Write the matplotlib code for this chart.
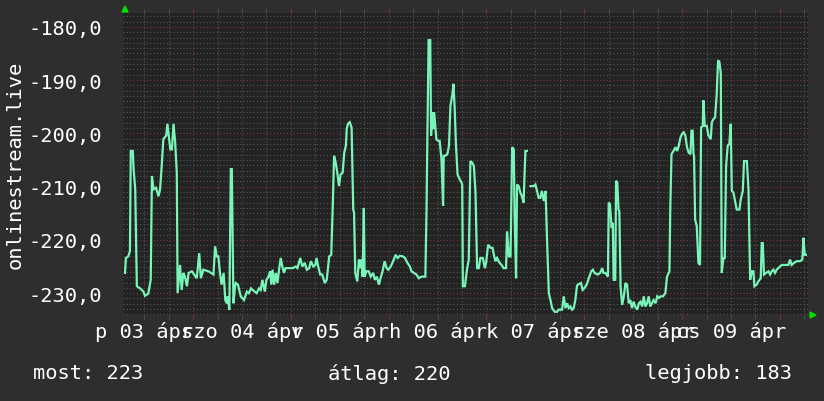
import numpy as np
import matplotlib
matplotlib.use("Agg")
import matplotlib.pyplot as plt
from matplotlib.ticker import FuncFormatter, MultipleLocator
import matplotlib.transforms as mtransforms

# hours since 03 apr 00:00, rank (plotted negative)
hours = [7.3, 7.5, 8.1, 8.5, 8.7, 9.2, 9.4, 9.8, 10.2, 11.0, 11.8, 12.2, 13.0, 13.6, 13.9, 14.3, 14.9, 15.5,
         15.9, 16.3, 16.7, 17.4, 17.7, 18.4, 18.8, 19.2, 19.6, 20.0, 20.2, 20.8, 21.2, 21.6, 22.0, 22.5, 22.9,
         23.7, 24.9, 25.5, 25.9, 26.5, 27.8, 29.0, 29.4, 29.8, 30.2, 30.6, 31.0, 31.5, 31.9, 32.3, 32.5, 32.9,
         33.25, 33.5, 33.9, 34.3, 34.5, 35.0, 35.7, 36.5, 37.2, 37.7, 38.2, 38.6, 39.1, 39.6, 40.2, 40.6, 41.0,
         41.6, 42.0, 42.5, 42.9, 43.2, 43.5, 43.9, 44.3, 44.7, 45.1, 45.5, 45.9, 46.3, 46.7, 47.6, 48.4, 49.2,
         49.6, 50.3, 50.8, 51.4, 51.9, 52.5, 52.9, 53.5, 54.0, 54.3, 54.7, 55.2, 55.7, 56.3, 56.8, 57.4, 57.9,
         58.3, 58.6, 59.0, 59.4, 59.8, 60.2, 60.7, 61.1, 61.5, 61.7, 62.0, 62.45, 62.9, 63.3, 63.5, 63.8, 64.3,
         64.7, 65.0, 65.3, 65.6, 65.9, 66.1, 66.5, 67.1, 67.6, 68.2, 68.6, 69.1, 69.6, 70.1, 70.5, 71.0, 71.5,
         71.9, 72.5, 73.1, 73.7, 74.2, 74.7, 75.5, 76.0, 76.6, 77.2, 77.6, 78.2, 78.8, 79.4, 80.0, 81.0, 81.3,
         81.5, 81.8, 82.2, 82.4, 82.7, 82.9, 83.15, 83.5, 83.7, 84.1, 84.5, 84.95, 85.35, 85.5, 85.9, 86.4,
         86.8, 87.15, 87.6, 87.9, 88.2, 88.5, 88.9, 89.4, 89.85, 90.05, 90.2, 90.7, 91.2, 91.65, 92.05, 92.5,
         92.9, 93.3, 93.7, 94.1, 94.5, 95.1, 95.6, 95.9, 96.4, 97.0, 97.5, 97.9, 98.2, 98.6, 99.2, 99.7, 100.2,
         100.8, 101.05, 101.5, 101.9, 102.3, 102.7, 102.9, 103.26, 103.5, 103.9, 104.3, 104.7, 105.1, 105.55,
         105.9, 106.3, 106.8, 107.6, 108.0, 108.4, 108.8, 109.2, 109.6, 110.05, 110.5, 110.9, 111.3, 111.7,
         112.1, 112.75, 113.3, 113.7, 114.55, 114.96, 115.4, 115.8, 116.2, 116.6, 117.0, 117.4, 117.8, 118.2,
         118.4, 119.2, 119.6, 120.0, 120.6, 121.1, 121.7, 122.1, 122.5, 123.3, 123.9, 124.4, 124.7, 125.2,
         125.8, 126.0, 126.3, 126.7, 127.0, 127.2, 127.6, 127.8, 128.1, 128.4, 128.6, 128.9, 129.3, 129.7,
         130.1, 130.5, 130.9, 131.3, 131.7, 132.1, 132.5, 133.0, 133.4, 133.8, 134.2, 134.6, 135.0, 135.4,
         135.8, 136.2, 136.6, 137.0, 137.5, 137.9, 138.3, 138.7, 139.3, 139.9, 140.3, 140.9, 141.1, 141.4,
         141.9, 142.4, 142.8, 143.2, 143.6, 144.0, 144.4, 144.8, 145.2, 145.6, 146.05, 146.3, 146.6, 146.8,
         146.94, 147.2, 147.6, 148.0, 148.4, 148.66, 149.07, 149.23, 149.56, 150.05, 150.46, 151.03, 151.3,
         151.7, 152.1, 152.5, 152.83, 153.16, 153.5, 153.73, 154.14, 154.47, 154.8, 155.2, 155.6, 155.94,
         156.2, 156.6, 157.0, 157.4, 158.07, 158.4, 158.9, 159.2, 159.9, 160.3, 160.7, 161.1, 161.5, 161.75,
         162.3, 162.7, 163.3, 163.55, 163.8, 164.1, 164.6, 165.2, 165.6, 166.0, 166.4, 166.8, 167.2, 167.6,
         168.0, 168.5, 169.3, 170.1, 170.5, 170.9, 171.5, 172.1, 172.95, 173.5, 173.8, 174.1, 174.4]
rank = [226.2, 223.4, 223.1, 222.1, 203.3, 203.3, 206.7, 210.5, 228.7, 229.1, 229.7, 230.5, 230.1, 227.5, 208.0,
        210.5, 210.2, 211.8, 210.5, 206.1, 201.1, 200.4, 198.2, 203.0, 203.0, 198.2, 201.7, 207.4, 230.0, 224.7,
        229.4, 226.2, 226.9, 228.7, 226.2, 225.9, 227.2, 222.5, 227.2, 225.6, 225.9, 226.5, 221.2, 223.1, 223.1,
        226.2, 228.4, 226.2, 231.3, 231.9, 230.6, 233.1, 206.7, 206.7, 231.9, 228.7, 228.1, 228.4, 230.6, 231.3,
        229.7, 230.0, 229.1, 229.4, 229.7, 230.0, 229.1, 229.4, 227.5, 229.7, 227.5, 226.9, 225.9, 228.4, 225.6,
        228.4, 226.2, 228.1, 225.6, 223.4, 225.0, 226.2, 225.3, 225.3, 225.3, 225.0, 225.3, 223.4, 225.0, 224.3,
        225.6, 225.3, 224.0, 225.0, 224.7, 223.4, 225.0, 226.5, 226.5, 228.1, 227.5, 223.1, 222.8, 213.0, 204.2,
        205.5, 207.4, 209.9, 207.7, 207.4, 203.6, 202.3, 199.2, 198.2, 197.9, 198.9, 214.3, 214.9, 226.2, 227.8,
        223.7, 225.3, 223.7, 226.9, 214.0, 226.9, 225.9, 225.9, 226.9, 226.2, 227.5, 226.9, 228.4, 226.9, 225.9,
        224.0, 225.3, 225.6, 225.0, 224.0, 222.8, 223.4, 223.0, 223.1, 223.4, 224.3, 225.0, 225.9, 226.2, 226.5,
        227.2, 226.9, 226.9, 213.6, 200.4, 182.5, 182.5, 200.4, 196.0, 199.2, 196.0, 199.2, 201.1, 201.4, 201.4,
        204.8, 213.6, 204.2, 204.2, 203.9, 202.3, 194.8, 192.9, 190.7, 195.4, 202.0, 207.7, 208.6, 209.2, 209.6,
        228.7, 228.7, 225.6, 223.7, 205.2, 205.5, 206.1, 211.1, 225.3, 225.3, 223.4, 223.4, 225.3, 224.3, 220.9,
        221.5, 221.5, 223.1, 224.0, 223.4, 224.3, 224.7, 225.3, 225.3, 218.4, 223.1, 223.1, 202.6, 203.0, 215.5,
        227.2, 209.6, 209.9, 211.1, 211.8, 213.0, 203.3, 203.3, np.nan, 209.9, 209.9, 209.6, 210.8, 212.1,
        212.1, 210.8, 212.7, 210.8, 220.9, 230.0, 231.3, 232.8, 233.5, 233.5, 233.1, 233.1, 230.6, 232.8, 231.9,
        232.8, 232.5, 233.1, 232.8, 231.3, 228.7, 228.4, 228.1, 229.4, 229.1, 228.4, 227.2, 225.9, 225.6, 226.2,
        226.5, 226.2, 225.3, 226.2, 226.2, 226.9, 213.0, 213.3, 217.7, 216.8, 227.5, 227.5, 208.9, 209.2, 214.3,
        214.6, 228.7, 232.2, 230.6, 228.1, 228.4, 231.9, 231.3, 232.8, 231.6, 232.5, 233.1, 231.9, 231.6, 232.5,
        230.6, 232.5, 231.9, 230.6, 232.5, 231.9, 231.3, 231.9, 230.6, 230.9, 230.6, 230.6, 230.0, 226.9, 225.9,
        214.3, 203.9, 203.3, 202.6, 203.3, 202.3, 200.8, 200.1, 199.8, 200.4, 202.6, 203.6, 203.9, 199.5, 199.5,
        203.9, 204.2, 216.2, 217.4, 224.3, 224.7, 198.9, 198.6, 193.8, 198.6, 198.6, 200.4, 201.1, 197.9, 197.3,
        197.0, 192.6, 186.3, 186.6, 188.8, 226.2, 223.4, 223.4, 206.1, 202.3, 202.0, 198.2, 210.8, 211.1, 212.7,
        214.3, 214.3, 212.4, 210.8, 205.2, 205.2, 210.5, 227.5, 225.9, 225.9, 228.7, 228.4, 227.8, 227.2, 220.6,
        220.6, 226.5, 226.2, 225.9, 226.5, 225.9, 225.6, 226.2, 225.6, 225.3, 225.0, 224.7, 224.7, 224.7, 223.7,
        224.7, 224.3, 224.0, 224.0, 223.7, 219.6, 222.8, 222.8]

day_labels = ["p 03 ápr", "szo 04 ápr", "v 05 ápr", "h 06 ápr", "k 07 ápr", "sze 08 ápr", "cs 09 ápr"]
summary = ["most: 223", "átlag: 220", "legjobb: 183"]
title_y = "onlinestream.live"

plt.rcParams["font.family"] = ["DejaVu Sans Mono"]
plt.rcParams["font.size"] = 14.7

bg = "#2e2e2e"
fig = plt.figure(figsize=(8.24, 4.02), dpi=100, facecolor=bg)
ax = fig.add_axes([123 / 824, 86 / 402, 685 / 824, 302 / 402])
ax.set_facecolor("#232323")

vals = -np.array(rank, dtype=float)
ax.plot(hours, vals, color="#7af5b9", lw=1.6, solid_joinstyle="miter")

ax.set_xlim(6.8, 174.9)
ax.set_ylim(-234.1, -177.4)

ax.yaxis.set_major_locator(MultipleLocator(10))
ax.yaxis.set_minor_locator(MultipleLocator(1))
ax.xaxis.set_major_locator(MultipleLocator(24))
ax.xaxis.set_minor_locator(MultipleLocator(6))
ax.yaxis.set_major_formatter(FuncFormatter(lambda v, p: f"{v:.1f}".replace(".", ",")))
ax.xaxis.set_major_formatter(FuncFormatter(lambda v, p: ""))

ax.grid(which="minor", color="#555555", ls=(0, (1, 2)), lw=0.8)
ax.grid(which="major", color="#7a3434", ls=(0, (1, 2)), lw=0.8)
ax.set_axisbelow(True)

ax.tick_params(axis="y", which="both", length=0, colors="white", pad=15)
ax.tick_params(axis="x", which="both", length=3, color="#555555", top=True, bottom=True, direction="out")
ax.tick_params(axis="x", which="major", color="#7a3434")
for s in ax.spines.values():
    s.set_visible(False)

trans = mtransforms.blended_transform_factory(ax.transData, fig.transFigure)
for i, lab in enumerate(day_labels):
    ax.text(12 + 24 * i, 1 - 332 / 402, lab, transform=trans, ha="center", va="center",
            color="white", clip_on=False)

fig.text(15 / 824, 1 - 165 / 402, title_y, rotation=90, ha="center", va="center", color="white")

fig.text(33 / 824, 1 - 374 / 402, summary[0], ha="left", va="center", color="white")
fig.text(328 / 824, 1 - 374 / 402, summary[1], ha="left", va="center", color="white")
fig.text(792 / 824, 1 - 374 / 402, summary[2], ha="right", va="center", color="white")

# axis arrows
fig.patches.append(plt.Polygon([[122 / 824, 1 - 13 / 402], [128 / 824, 1 - 13 / 402], [125 / 824, 1 - 7 / 402]],
                               closed=True, color="#00dd00", transform=fig.transFigure))
fig.patches.append(plt.Polygon([[810 / 824, 1 - 313 / 402], [810 / 824, 1 - 319 / 402], [816 / 824, 1 - 316 / 402]],
                               closed=True, color="#00dd00", transform=fig.transFigure))

fig.savefig("out.png", dpi=100, facecolor=bg)
